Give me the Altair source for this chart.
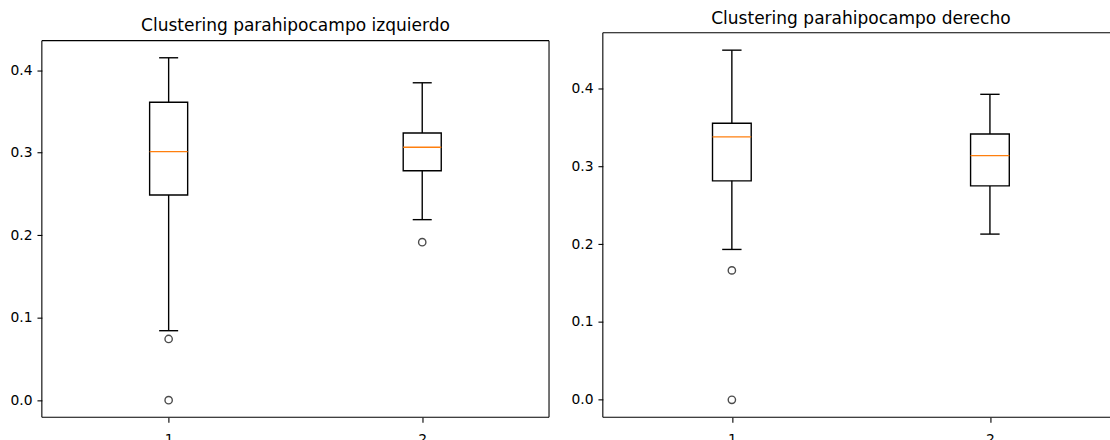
import altair as alt
import pandas as pd

positions = [1, 2]
y_ticks = [0.0, 0.1, 0.2, 0.3, 0.4]

# Left parahippocampal clustering: box statistics per group
left_title = "Clustering parahipocampo izquierdo"
left_low = [0.0842, 0.2188]
left_q1 = [0.2487, 0.2781]
left_median = [0.3012, 0.3065]
left_q3 = [0.3611, 0.3238]
left_high = [0.415, 0.3847]
left_out_pos = [1, 1, 2]
left_out_val = [0.0742, 0.0, 0.1915]

# Right parahippocampal clustering: box statistics per group
right_title = "Clustering parahipocampo derecho"
right_low = [0.1931, 0.2128]
right_q1 = [0.2812, 0.2747]
right_median = [0.3376, 0.3136]
right_q3 = [0.3551, 0.3414]
right_high = [0.449, 0.3923]
right_out_pos = [1, 1]
right_out_val = [0.1662, 0.0]

FONT = "DejaVu Sans"
LINE_W = 1.39
SPINE_W = 1.1
BOX_HALF = 0.075
CAP_HALF = 0.0375
PANEL_H = 386


def frame(width, top):
    """Axes spines drawn as rules around the plotting region."""
    one = alt.Data(values=[{}])
    style = dict(color="black", strokeWidth=SPINE_W)
    return [
        alt.Chart(one).mark_rule(**style).encode(
            x=alt.value(0), y=alt.value(top), y2=alt.value(PANEL_H)),
        alt.Chart(one).mark_rule(**style).encode(
            x=alt.value(width), y=alt.value(top), y2=alt.value(PANEL_H)),
        alt.Chart(one).mark_rule(**style).encode(
            x=alt.value(0), x2=alt.value(width), y=alt.value(top)),
        alt.Chart(one).mark_rule(**style).encode(
            x=alt.value(0), x2=alt.value(width), y=alt.value(PANEL_H)),
    ]


def panel(title, low, q1, med, q3, high, out_pos, out_val,
          width, top, title_offset):
    stats = pd.DataFrame({"pos": positions, "low": low, "q1": q1,
                          "median": med, "q3": q3, "high": high})
    outliers = pd.DataFrame({"pos": out_pos, "value": out_val})

    vmin = min(low + out_val)
    vmax = max(high + out_val)
    margin = 0.05 * (vmax - vmin)

    xs = alt.Scale(domain=[0.5, 2.5], nice=False, zero=False)
    ys = alt.Scale(domain=[vmin - margin, vmax + margin], nice=False,
                   zero=False, range=[PANEL_H, top])
    x_axis = alt.Axis(values=positions, format="d", title=None)
    y_axis = alt.Axis(values=y_ticks, format=".1f", title=None)

    def X(field):
        return alt.X(field, type="quantitative", scale=xs, axis=x_axis)

    def Y(field):
        return alt.Y(field, type="quantitative", scale=ys, axis=y_axis)

    base = alt.Chart(stats).transform_calculate(
        box_l=f"datum.pos - {BOX_HALF}",
        box_r=f"datum.pos + {BOX_HALF}",
        cap_l=f"datum.pos - {CAP_HALF}",
        cap_r=f"datum.pos + {CAP_HALF}",
    )

    whisk_lo = base.mark_rule(color="black", strokeWidth=LINE_W).encode(
        x=X("pos"), y=Y("low"), y2="q1:Q")
    whisk_hi = base.mark_rule(color="black", strokeWidth=LINE_W).encode(
        x=X("pos"), y=Y("q3"), y2="high:Q")
    cap_lo = base.mark_rule(color="black", strokeWidth=LINE_W).encode(
        x=X("cap_l"), x2="cap_r:Q", y=Y("low"))
    cap_hi = base.mark_rule(color="black", strokeWidth=LINE_W).encode(
        x=X("cap_l"), x2="cap_r:Q", y=Y("high"))
    box = base.mark_rect(fillOpacity=0, stroke="black", strokeWidth=LINE_W).encode(
        x=X("box_l"), x2="box_r:Q", y=Y("q1"), y2="q3:Q")
    median = base.mark_rule(color="#ff7f0e", strokeWidth=LINE_W).encode(
        x=X("box_l"), x2="box_r:Q", y=Y("median"))
    fliers = alt.Chart(outliers).mark_point(
        shape="circle", filled=False, color="black", size=54, strokeWidth=LINE_W
    ).encode(x=X("pos"), y=Y("value"))

    return alt.layer(
        whisk_lo, whisk_hi, cap_lo, cap_hi, box, median, fliers,
        *frame(width, top)
    ).properties(
        width=width,
        height=PANEL_H,
        title=alt.TitleParams(
            text=title, font=FONT, fontSize=17.1, fontWeight="normal",
            color="black", anchor="middle", frame="group",
            baseline="alphabetic", offset=title_offset,
        ),
    )


left = panel(left_title, left_low, left_q1, left_median, left_q3, left_high,
             left_out_pos, left_out_val, width=509, top=8, title_offset=-15)
right = panel(right_title, right_low, right_q1, right_median, right_q3, right_high,
              right_out_pos, right_out_val, width=518, top=0, title_offset=-9)

chart = alt.hconcat(left, right, spacing=21).properties(
    padding={"left": 10, "top": 9, "right": -10, "bottom": -3},
    background="white",
).configure_view(
    strokeWidth=0
).configure_axis(
    labelFont=FONT, labelFontSize=13.9, labelColor="black",
    tickColor="black", tickWidth=1.1, tickSize=4.9,
    grid=False, domain=False,
).configure_axisX(
    labelPadding=10
).configure_axisY(
    labelPadding=5
)

chart.save("out.html", embed_options={"renderer": "svg", "actions": False})
